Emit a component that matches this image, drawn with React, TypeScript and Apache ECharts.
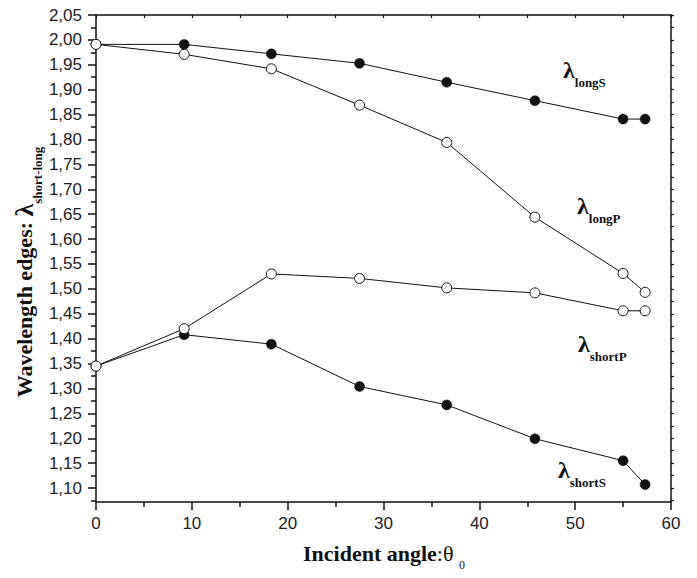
import React, { useEffect, useRef } from "react";
import * as echarts from "echarts";

// Incident angle (degrees)
const angles = [0, 9.2, 18.3, 27.5, 36.6, 45.8, 55.0, 57.3];
// Wavelength edges
const lambdaLongS = [1.991, 1.991, 1.972, 1.953, 1.915, 1.878, 1.841, 1.841];
const lambdaLongP = [1.991, 1.971, 1.942, 1.869, 1.794, 1.644, 1.531, 1.493];
const lambdaShortP = [1.345, 1.42, 1.53, 1.521, 1.502, 1.492, 1.456, 1.456];
const lambdaShortS = [1.345, 1.408, 1.389, 1.304, 1.267, 1.199, 1.155, 1.107];

const yTickValues = [
  1.1, 1.15, 1.2, 1.25, 1.3, 1.35, 1.4, 1.45, 1.5, 1.55, 1.6, 1.65, 1.7, 1.75,
  1.8, 1.85, 1.9, 1.95, 2.0, 2.05,
];
const yMin = 1.072;
const yMax = 2.05;

const serif = "Liberation Serif";
const sans = "Liberation Sans";
const ink = "#111";

const pairs = (ys: number[]) => angles.map((a, i) => [a, ys[i]]);

export default function App() {
  const ref = useRef<HTMLDivElement>(null);
  useEffect(() => {
    document.body.style.margin = "0";
    const chart = echarts.init(ref.current!, null, { renderer: "svg" });
    const yMinor = yTickValues.map((v) => +(v - 0.025).toFixed(3));
    const yAll = [...yMinor, ...yTickValues].sort((a, b) => a - b);

    const filled = (name: string, ys: number[]) => ({
      name,
      type: "line",
      data: pairs(ys),
      xAxisIndex: 0,
      yAxisIndex: 0,
      symbol: "circle",
      symbolSize: 10,
      z: 2,
      lineStyle: { color: ink, width: 1 },
      itemStyle: { color: ink, borderColor: ink, borderWidth: 0.5 },
    });
    const open = (name: string, ys: number[]) => ({
      name,
      type: "line",
      data: pairs(ys),
      xAxisIndex: 0,
      yAxisIndex: 0,
      symbol: "circle",
      symbolSize: 10,
      z: 3,
      lineStyle: { color: ink, width: 1 },
      itemStyle: { color: "#fff", borderColor: ink, borderWidth: 1 },
    });

    const lamLabel = (sub: string, x: number, y: number) => ({
      type: "text",
      x,
      y,
      style: {
        text: `{l|λ}{s|${sub}}`,
        textAlign: "left",
        textVerticalAlign: "middle",
        fill: ink,
        rich: {
          l: { fontSize: 24, fontWeight: "bold", fontFamily: serif, fill: ink, lineHeight: 26 },
          s: { fontSize: 13, fontWeight: "bold", fontFamily: serif, fill: ink, padding: [25, 0, 0, 0] },
        },
      },
    });

    chart.setOption({
      animation: false,
      backgroundColor: "#fff",
      grid: { left: 96, right: 26, top: 15, bottom: 76, containLabel: false },
      xAxis: [
        {
          type: "value",
          position: "bottom",
          min: 0,
          max: 60,
          interval: 10,
          axisLine: { show: true, onZero: false, lineStyle: { color: ink, width: 1.5 } },
          axisTick: { show: true, length: 8, lineStyle: { color: ink, width: 1.5 } },
          minorTick: { show: true, splitNumber: 2, length: 5, lineStyle: { color: ink, width: 1.5 } },
          splitLine: { show: false },
          axisLabel: { fontSize: 17, color: "#222", fontFamily: sans, margin: 13 },
        },
        {
          type: "value",
          position: "top",
          min: 0,
          max: 60,
          interval: 5,
          axisLine: { show: true, onZero: false, lineStyle: { color: ink, width: 1.5 } },
          axisTick: { show: true, inside: true, length: 3, lineStyle: { color: ink, width: 1.2 } },
          splitLine: { show: false },
          axisLabel: { show: false },
        },
      ],
      yAxis: [
        {
          type: "value",
          position: "left",
          min: yMin,
          max: yMax,
          axisLine: { show: true, onZero: false, lineStyle: { color: ink, width: 1.5 } },
          axisTick: { show: true, customValues: yTickValues, length: 8, lineStyle: { color: ink, width: 1.5 } },
          splitLine: { show: false },
          axisLabel: {
            customValues: yTickValues,
            formatter: (v: number) => v.toFixed(2).replace(".", ","),
            fontSize: 17,
            color: "#222",
            fontFamily: sans,
            margin: 14,
          },
        },
        {
          type: "value",
          position: "left",
          min: yMin,
          max: yMax,
          axisLine: { show: false },
          axisTick: { show: true, customValues: yMinor, length: 5, lineStyle: { color: ink, width: 1.5 } },
          splitLine: { show: false },
          axisLabel: { show: false },
        },
        {
          type: "value",
          position: "right",
          min: yMin,
          max: yMax,
          axisLine: { show: true, onZero: false, lineStyle: { color: ink, width: 1.5 } },
          axisTick: { show: true, customValues: yAll, length: 3, lineStyle: { color: ink, width: 1.2 } },
          splitLine: { show: false },
          axisLabel: { show: false },
        },
      ],
      series: [
        filled("λlongS", lambdaLongS),
        filled("λshortS", lambdaShortS),
        open("λlongP", lambdaLongP),
        open("λshortP", lambdaShortP),
      ],
      graphic: [
        lamLabel("longS", 563, 70),
        lamLabel("longP", 577, 206),
        lamLabel("shortP", 578, 344),
        lamLabel("shortS", 558, 470),
        {
          type: "text",
          x: 24,
          y: 272,
          rotation: Math.PI / 2,
          style: {
            text: "{m|Wavelength edges: }{l|λ}{s|short-long}",
            textAlign: "center",
            textVerticalAlign: "middle",
            fill: ink,
            rich: {
              m: { fontSize: 22, fontWeight: "bold", fontFamily: serif, fill: ink },
              l: { fontSize: 26, fontWeight: "bold", fontFamily: serif, fill: ink },
              s: { fontSize: 13, fontWeight: "bold", fontFamily: serif, fill: ink, padding: [26, 0, 0, 0] },
            },
          },
        },
        {
          type: "text",
          x: 384,
          y: 553,
          style: {
            text: "{b|Incident angle}{n|:θ }{s|0}",
            textAlign: "center",
            textVerticalAlign: "middle",
            fill: ink,
            rich: {
              b: { fontSize: 22, fontWeight: "bold", fontFamily: serif, fill: ink },
              n: { fontSize: 22, fontFamily: serif, fill: ink },
              s: { fontSize: 12, fontFamily: serif, fill: ink, padding: [24, 0, 0, 0] },
            },
          },
        },
      ],
    });
    return () => chart.dispose();
  }, []);
  return <div ref={ref} style={{ width: 697, height: 578 }} />;
}
